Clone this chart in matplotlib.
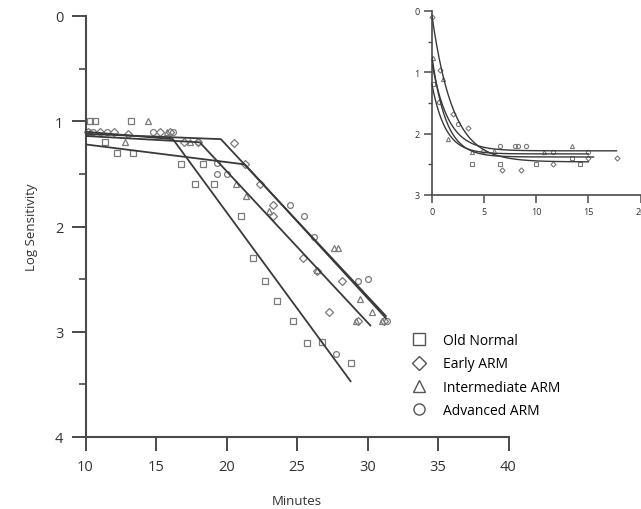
import numpy as np
import matplotlib
matplotlib.use("Agg")
import matplotlib.pyplot as plt

plt.rcParams['font.family'] = ['Open Sans', 'DejaVu Sans']

# ---- main panel: two-segment fits and measured thresholds ----
series_names = ["Old Normal", "Early ARM", "Intermediate ARM", "Advanced ARM"]
series_markers = ["s", "D", "^", "o"]

old_x = [10.3, 10.7, 13.2, 11.4, 12.2, 13.4, 16.8, 18.3, 17.8, 19.1, 21.0, 21.9,
         22.7, 23.6, 24.7, 25.7, 26.8, 28.8]
old_y = [1.00, 1.00, 1.00, 1.20, 1.30, 1.30, 1.41, 1.41, 1.60, 1.60, 1.90, 2.30,
         2.52, 2.71, 2.90, 3.11, 3.10, 3.30]

early_x = [10.2, 11.0, 12.0, 13.0, 15.3, 16.0, 17.0, 18.0, 20.5, 21.3, 22.4, 23.3,
           23.3, 25.4, 26.4, 27.3, 28.2, 29.3, 31.2]
early_y = [1.10, 1.10, 1.10, 1.12, 1.10, 1.10, 1.20, 1.20, 1.21, 1.41, 1.60, 1.80,
           1.90, 2.30, 2.42, 2.81, 2.52, 2.90, 2.90]

inter_x = [10.3, 12.8, 14.4, 15.8, 17.4, 20.7, 21.4, 23.0, 26.4, 27.6, 27.9, 29.2,
           29.5, 30.3, 31.0]
inter_y = [1.10, 1.20, 1.00, 1.10, 1.20, 1.60, 1.71, 1.85, 2.41, 2.20, 2.20, 2.90,
           2.69, 2.81, 2.90]

adv_x = [10.5, 11.5, 14.8, 16.2, 18.0, 19.3, 20.0, 19.3, 24.5, 25.5, 26.2, 27.8,
         29.3, 30.0, 31.4]
adv_y = [1.10, 1.10, 1.10, 1.10, 1.20, 1.40, 1.50, 1.50, 1.80, 1.90, 2.10, 3.21,
         2.52, 2.50, 2.90]

# fitted lines: start, breakpoint, end (minutes / log sensitivity)
fit_x = [[10.0, 16.2, 28.8], [10.0, 19.6, 31.3], [10.0, 18.1, 30.2], [10.0, 21.3, 31.3]]
fit_y = [[1.10, 1.17, 3.47], [1.12, 1.17, 2.85], [1.14, 1.20, 2.94], [1.22, 1.41, 2.87]]

# ---- inset: recovery over the first minutes ----
ins_fit_start = [0.08, 0.75, 1.20, 0.85]
ins_fit_plateau = [2.46, 2.38, 2.33, 2.28]
ins_fit_tau = [2.0, 1.35, 1.30, 1.55]
ins_fit_end = [15.0, 15.5, 15.0, 17.7]

ins_old_x = [0.13, 3.8, 6.5, 10.0, 13.4, 14.2]
ins_old_y = [1.19, 2.50, 2.50, 2.50, 2.40, 2.50]
ins_early_x = [0.03, 0.77, 2.04, 3.47, 4.9, 6.7, 8.58, 11.6, 15.0, 17.7]
ins_early_y = [0.09, 0.97, 1.68, 1.90, 2.28, 2.60, 2.60, 2.50, 2.40, 2.39]
ins_inter_x = [0.13, 1.08, 1.56, 3.8, 5.9, 10.7, 13.4]
ins_inter_y = [0.76, 1.11, 2.09, 2.30, 2.28, 2.30, 2.20]
ins_adv_x = [0.7, 2.5, 6.5, 7.94, 8.26, 9.06, 11.6, 15.0]
ins_adv_y = [1.49, 1.85, 2.20, 2.20, 2.20, 2.20, 2.30, 2.30]

line_col = "#3a3a3a"
mark_col = "#7a7a7a"
spine_col = "#4a4a4a"

fig = plt.figure(figsize=(6.41, 5.10), dpi=100)

# main axes
ax = fig.add_axes([85.5 / 641, 1 - 438 / 510, (508.5 - 85.5) / 641, (438 - 17) / 510])
ax.set_xlim(10, 40)
ax.set_ylim(4, 0)

main_sets = [(old_x, old_y), (early_x, early_y), (inter_x, inter_y), (adv_x, adv_y)]
for (xs, ys), fx, fy, mk, name in zip(main_sets, fit_x, fit_y, series_markers, series_names):
    ax.plot(fx, fy, color=line_col, lw=1.3, zorder=3)
    ax.plot(xs, ys, linestyle="none", marker=mk, ms=4.2 if mk != "D" else 3.6,
            mfc="none", mec=mark_col, mew=0.9, zorder=2, clip_on=False)

# legend entries
handles = [plt.Line2D([], [], linestyle="none", marker=mk, ms=8 if mk != "D" else 7,
                      mfc="none", mec="#555555", mew=1.0) for mk in series_markers]
ax.legend(handles, series_names, loc="upper left", bbox_to_anchor=(0.76, 0.26),
          frameon=False, fontsize=10, handletextpad=1.2, labelspacing=0.6,
          borderaxespad=0, handlelength=1.0)

for s in ["top", "right"]:
    ax.spines[s].set_visible(False)
for s in ["left", "bottom"]:
    ax.spines[s].set_color(spine_col)
    ax.spines[s].set_linewidth(1.5)

ax.set_xticks([10, 15, 20, 25, 30, 35, 40])
ax.set_yticks([0, 1, 2, 3, 4])
ax.set_yticks([0.5, 1.5, 2.5, 3.5], minor=True)
ax.tick_params(axis="both", which="major", direction="out", length=10, width=1.4,
               color=spine_col, labelsize=10.5, labelcolor="#333333", pad=6)
ax.tick_params(axis="y", which="minor", direction="out", length=5, width=1.2,
               color=spine_col)
ax.set_xlabel("Minutes", fontsize=9.5, color="#333333", labelpad=14)
ax.set_ylabel("Log Sensitivity", fontsize=9.5, color="#333333", labelpad=12)

# inset axes
ins = fig.add_axes([432 / 641, 1 - 196 / 510, (640.5 - 432) / 641, (196 - 12) / 510])
ins.set_xlim(0, 20)
ins.set_ylim(3, 0)
ins.patch.set_alpha(0)

ins_sets = [(ins_old_x, ins_old_y), (ins_early_x, ins_early_y),
            (ins_inter_x, ins_inter_y), (ins_adv_x, ins_adv_y)]
for (xs, ys), y0, a, tau, tend, mk in zip(ins_sets, ins_fit_start, ins_fit_plateau,
                                         ins_fit_tau, ins_fit_end, series_markers):
    t = np.linspace(0, tend, 200)
    ins.plot(t, a - (a - y0) * np.exp(-t / tau), color=line_col, lw=1.0, zorder=3)
    ins.plot(xs, ys, linestyle="none", marker=mk, ms=3.0 if mk != "D" else 2.6,
             mfc="none", mec=mark_col, mew=0.8, zorder=2, clip_on=False)

for s in ["top", "right"]:
    ins.spines[s].set_visible(False)
for s in ["left", "bottom"]:
    ins.spines[s].set_color(spine_col)
    ins.spines[s].set_linewidth(1.2)
ins.set_xticks([0, 5, 10, 15, 20])
ins.set_yticks([0, 1, 2, 3])
ins.set_yticks([0.5, 1.5, 2.5], minor=True)
ins.tick_params(axis="both", which="major", direction="out", length=6, width=1.1,
                color=spine_col, labelsize=6.5, labelcolor="#333333", pad=3)
ins.tick_params(axis="y", which="minor", direction="out", length=3, width=1.0,
                color=spine_col)

fig.savefig("out.png", dpi=100)
